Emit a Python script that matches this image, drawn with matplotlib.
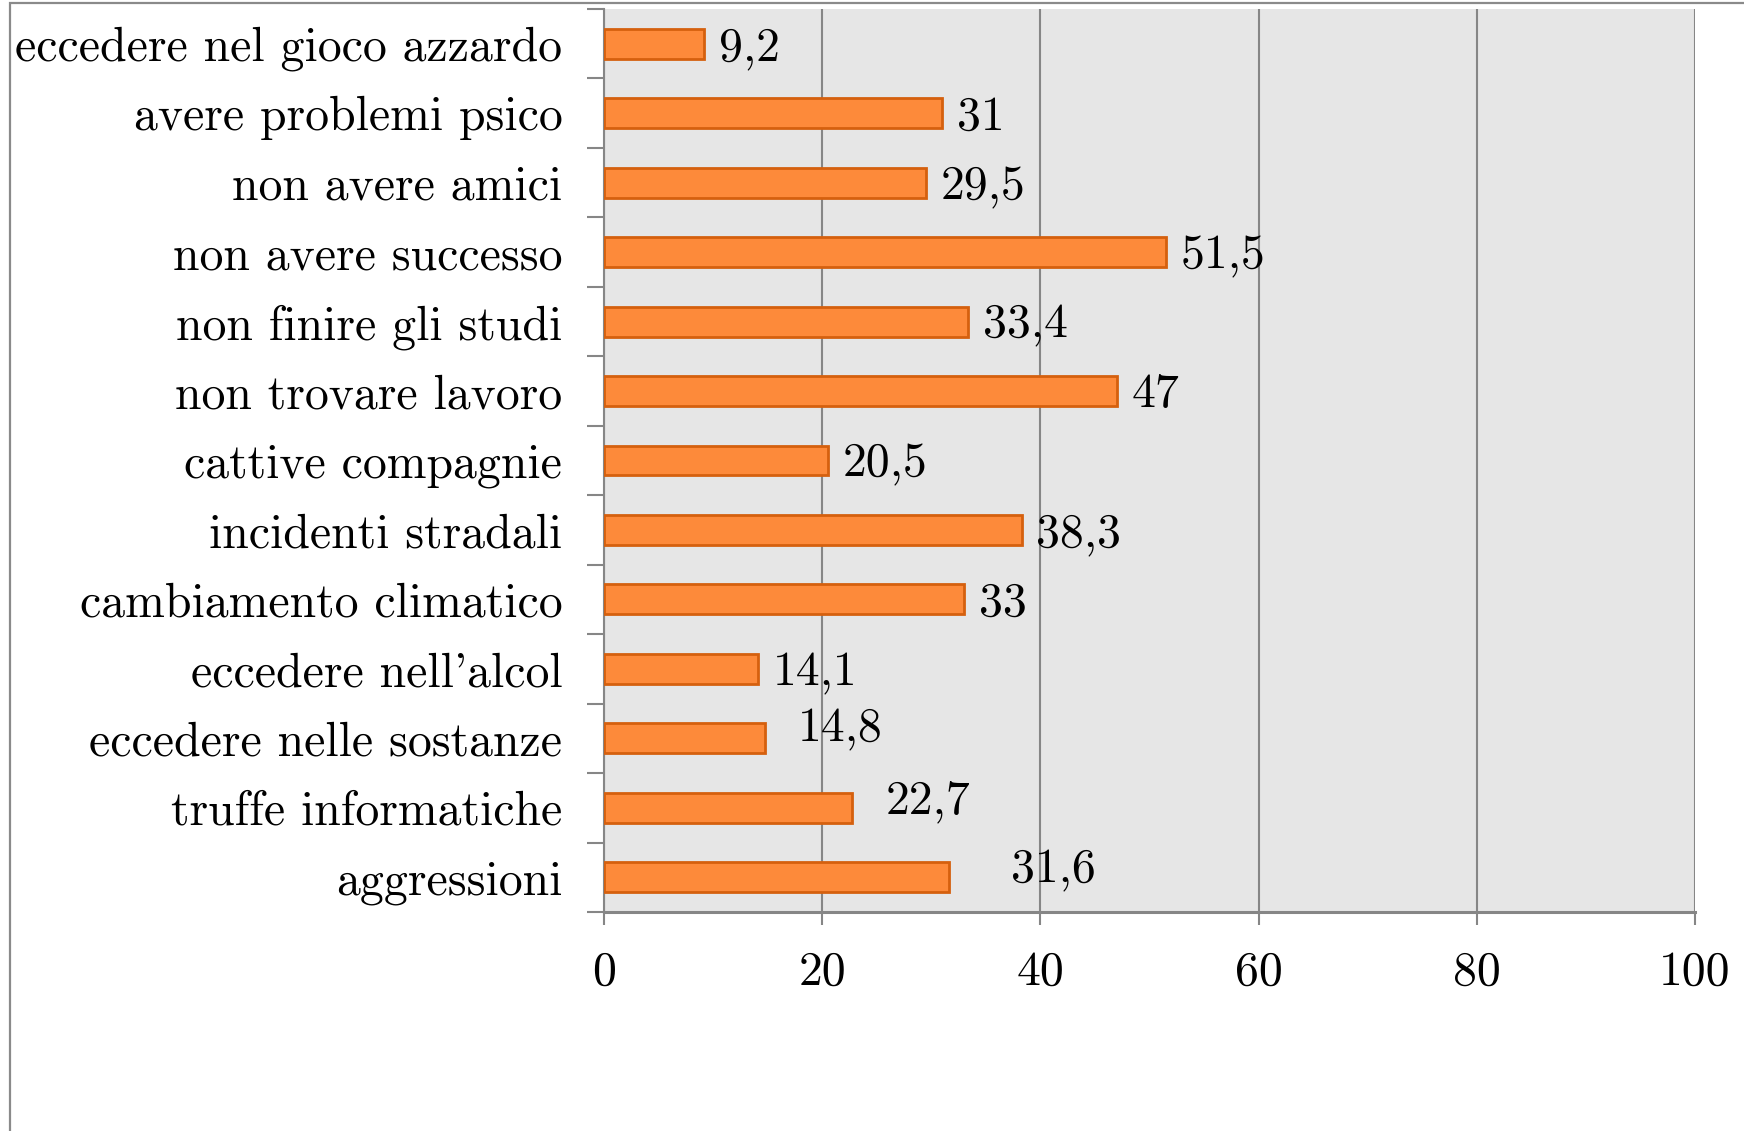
import matplotlib
matplotlib.use("Agg")
import matplotlib.pyplot as plt
from matplotlib.patches import Rectangle
import numpy as np

categories = ["eccedere nel gioco azzardo", "avere problemi psico", "non avere amici",
              "non avere successo", "non finire gli studi", "non trovare lavoro",
              "cattive compagnie", "incidenti stradali", "cambiamento climatico",
              "eccedere nell'alcol", "eccedere nelle sostanze", "truffe informatiche",
              "aggressioni"]
values = [9.2, 31, 29.5, 51.5, 33.4, 47, 20.5, 38.3, 33, 14.1, 14.8, 22.7, 31.6]
xticks = [0, 20, 40, 60, 80, 100]

# label nudges (points) - some labels in the original sit off their bars
label_dx = [0, 0, 0, 0, 0, 0, 0, 0, 0, 0, 13, 14, 34]
label_dy = [0, 0, 0, 0, 0, 0, 0, 0, 0, 0, 9.5, 8, 8]

plt.rcParams['font.family'] = ['cmr10', 'DejaVu Serif']
plt.rcParams['axes.formatter.use_mathtext'] = True

grey = '#868686'
fs = 34.4

fig = plt.figure(figsize=(17.44, 11.31), dpi=100)
ax = fig.add_axes([604/1744, 1-912/1131, (1695-604)/1744, (912-9)/1131])

# outer chart frame (only left and top visible)
fig.add_artist(Rectangle((10/1744, -0.2), 1.5, 1.2 - 3/1131, transform=fig.transFigure,
                         fill=False, edgecolor='#8a8a8a', linewidth=1.6, clip_on=False))

y = np.arange(len(categories))
ax.set_facecolor('#E6E6E6')
ax.barh(y, values, height=0.43, color='#FD8A3A', edgecolor='#D5600E', linewidth=2, zorder=3)

for i, v in enumerate(values):
    lab = f"{v:g}".replace('.', ',')
    ax.annotate(lab, (v, y[i]), xytext=(10.5 + label_dx[i], label_dy[i] - 3),
                textcoords='offset points', va='center', ha='left', fontsize=fs, zorder=4)

ax.set_xlim(0, 100)
ax.set_ylim(len(categories) - 0.5, -0.5)
ax.set_xticks(xticks)
ax.set_xticklabels([str(t) for t in xticks])
ax.set_yticks(y)
ax.set_yticklabels(categories)
ax.set_yticks(np.arange(-0.5, len(categories), 1), minor=True)

ax.tick_params(axis='y', which='major', length=0, pad=30, labelsize=fs)
ax.tick_params(axis='y', which='minor', length=12, width=1.5, color=grey, direction='out')
ax.tick_params(axis='x', length=9.5, width=1.5, color=grey, direction='out', pad=18, labelsize=fs)

ax.grid(axis='x', color=grey, linewidth=1.5, zorder=1)
ax.set_axisbelow(True)
for s in ['top', 'right']:
    ax.spines[s].set_visible(False)
ax.spines['left'].set_color(grey)
ax.spines['left'].set_linewidth(1.5)
ax.spines['bottom'].set_color(grey)
ax.spines['bottom'].set_linewidth(2.2)

fig.savefig("out.png", dpi=100)
